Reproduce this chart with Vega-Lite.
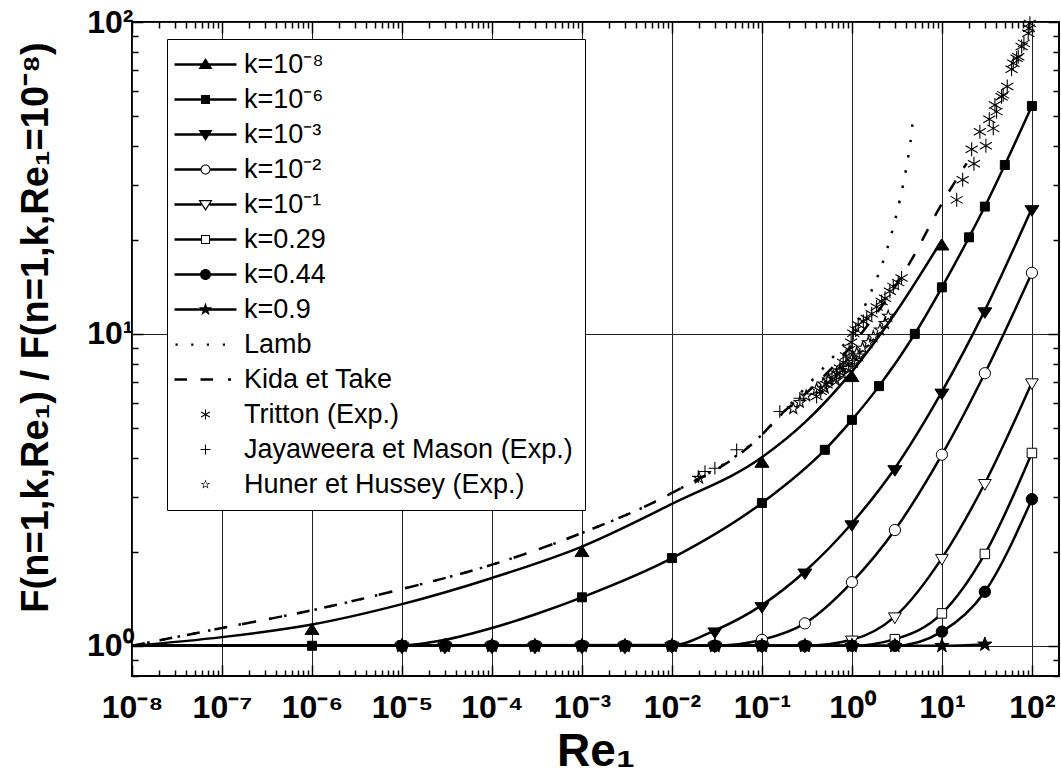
{
  "$schema": "https://vega.github.io/schema/vega-lite/v6.json",
  "width": 927,
  "height": 654,
  "autosize": {"type": "none"},
  "padding": {"left": 132, "top": 22, "right": 2, "bottom": 100},
  "background": "white",
  "config": {
    "font": "Liberation Sans",
    "view": {"stroke": "black", "strokeWidth": 2},
    "axis": {
      "domain": false,
      "labelFont": "Liberation Sans",
      "labelFontWeight": "bold",
      "labelFontSize": 32,
      "labelColor": "black",
      "labelOverlap": false,
      "labelFlush": false,
      "labelBound": false,
      "tickColor": "black",
      "tickWidth": 1.5,
      "gridColor": "#222222",
      "gridWidth": 1,
      "titleFont": "Liberation Sans",
      "titleFontWeight": "bold",
      "titleColor": "black"
    }
  },
  "datasets": {
    "model": [
      {"k": "k=10⁻⁸", "Re": 1e-8, "F": 1.0}, {"k": "k=10⁻⁸", "Re": 1e-7, "F": 1.066}, {"k": "k=10⁻⁸", "Re": 1e-6, "F": 1.17},
      {"k": "k=10⁻⁸", "Re": 1e-5, "F": 1.36}, {"k": "k=10⁻⁸", "Re": 1e-4, "F": 1.65}, {"k": "k=10⁻⁸", "Re": 1e-3, "F": 2.08},
      {"k": "k=10⁻⁸", "Re": 1e-2, "F": 2.85}, {"k": "k=10⁻⁸", "Re": 0.1, "F": 4.02}, {"k": "k=10⁻⁸", "Re": 0.3, "F": 5.2},
      {"k": "k=10⁻⁸", "Re": 1, "F": 7.57}, {"k": "k=10⁻⁸", "Re": 3, "F": 11.6}, {"k": "k=10⁻⁸", "Re": 10, "F": 20.0},

      {"k": "k=10⁻⁶", "Re": 1e-8, "F": 1.0}, {"k": "k=10⁻⁶", "Re": 1e-6, "F": 1.0}, {"k": "k=10⁻⁶", "Re": 1e-5, "F": 1.003},
      {"k": "k=10⁻⁶", "Re": 3e-5, "F": 1.045}, {"k": "k=10⁻⁶", "Re": 1e-4, "F": 1.14}, {"k": "k=10⁻⁶", "Re": 3e-4, "F": 1.26},
      {"k": "k=10⁻⁶", "Re": 1e-3, "F": 1.43}, {"k": "k=10⁻⁶", "Re": 1e-2, "F": 1.91}, {"k": "k=10⁻⁶", "Re": 0.1, "F": 2.87},
      {"k": "k=10⁻⁶", "Re": 0.5, "F": 4.25}, {"k": "k=10⁻⁶", "Re": 1, "F": 5.3}, {"k": "k=10⁻⁶", "Re": 2, "F": 6.8},
      {"k": "k=10⁻⁶", "Re": 5, "F": 10.0}, {"k": "k=10⁻⁶", "Re": 10, "F": 14.1}, {"k": "k=10⁻⁶", "Re": 20, "F": 20.4},
      {"k": "k=10⁻⁶", "Re": 30, "F": 25.6}, {"k": "k=10⁻⁶", "Re": 50, "F": 34.8}, {"k": "k=10⁻⁶", "Re": 100, "F": 53.8},

      {"k": "k=10⁻³", "Re": 1e-8, "F": 1.0}, {"k": "k=10⁻³", "Re": 1e-2, "F": 1.005}, {"k": "k=10⁻³", "Re": 3e-2, "F": 1.12},
      {"k": "k=10⁻³", "Re": 0.1, "F": 1.35}, {"k": "k=10⁻³", "Re": 0.3, "F": 1.73}, {"k": "k=10⁻³", "Re": 1, "F": 2.47},
      {"k": "k=10⁻³", "Re": 3, "F": 3.71}, {"k": "k=10⁻³", "Re": 10, "F": 6.53}, {"k": "k=10⁻³", "Re": 30, "F": 11.9},
      {"k": "k=10⁻³", "Re": 100, "F": 25.3},

      {"k": "k=10⁻²", "Re": 1e-8, "F": 1.0}, {"k": "k=10⁻²", "Re": 3e-2, "F": 1.0}, {"k": "k=10⁻²", "Re": 0.1, "F": 1.045},
      {"k": "k=10⁻²", "Re": 0.3, "F": 1.18}, {"k": "k=10⁻²", "Re": 1, "F": 1.6}, {"k": "k=10⁻²", "Re": 3, "F": 2.35},
      {"k": "k=10⁻²", "Re": 10, "F": 4.1}, {"k": "k=10⁻²", "Re": 30, "F": 7.48}, {"k": "k=10⁻²", "Re": 100, "F": 15.7},

      {"k": "k=10⁻¹", "Re": 1e-8, "F": 1.0}, {"k": "k=10⁻¹", "Re": 0.3, "F": 1.0}, {"k": "k=10⁻¹", "Re": 1, "F": 1.045},
      {"k": "k=10⁻¹", "Re": 3, "F": 1.24}, {"k": "k=10⁻¹", "Re": 10, "F": 1.91}, {"k": "k=10⁻¹", "Re": 30, "F": 3.32},
      {"k": "k=10⁻¹", "Re": 100, "F": 6.98},

      {"k": "k=0.29", "Re": 1e-8, "F": 1.0}, {"k": "k=0.29", "Re": 1, "F": 1.0}, {"k": "k=0.29", "Re": 3, "F": 1.05},
      {"k": "k=0.29", "Re": 10, "F": 1.27}, {"k": "k=0.29", "Re": 30, "F": 1.97}, {"k": "k=0.29", "Re": 100, "F": 4.15},

      {"k": "k=0.44", "Re": 1e-8, "F": 1.0}, {"k": "k=0.44", "Re": 3, "F": 1.0}, {"k": "k=0.44", "Re": 10, "F": 1.11},
      {"k": "k=0.44", "Re": 30, "F": 1.49}, {"k": "k=0.44", "Re": 100, "F": 2.95},

      {"k": "k=0.9", "Re": 1e-8, "F": 1.0}, {"k": "k=0.9", "Re": 10, "F": 1.0}, {"k": "k=0.9", "Re": 30, "F": 1.01}
    ],
    "marks": [
      {"k": "k=10⁻⁸", "Re": 1e-6, "F": 1.17}, {"k": "k=10⁻⁸", "Re": 1e-3, "F": 2.08}, {"k": "k=10⁻⁸", "Re": 0.1, "F": 4.02},
      {"k": "k=10⁻⁸", "Re": 1, "F": 7.57}, {"k": "k=10⁻⁸", "Re": 10, "F": 20.0},

      {"k": "k=10⁻⁶", "Re": 1e-6, "F": 1.0}, {"k": "k=10⁻⁶", "Re": 1e-5, "F": 1.003}, {"k": "k=10⁻⁶", "Re": 1e-3, "F": 1.43},
      {"k": "k=10⁻⁶", "Re": 1e-2, "F": 1.91}, {"k": "k=10⁻⁶", "Re": 0.1, "F": 2.87}, {"k": "k=10⁻⁶", "Re": 0.5, "F": 4.25},
      {"k": "k=10⁻⁶", "Re": 1, "F": 5.3}, {"k": "k=10⁻⁶", "Re": 2, "F": 6.8}, {"k": "k=10⁻⁶", "Re": 5, "F": 10.0},
      {"k": "k=10⁻⁶", "Re": 10, "F": 14.1}, {"k": "k=10⁻⁶", "Re": 20, "F": 20.4}, {"k": "k=10⁻⁶", "Re": 30, "F": 25.6},
      {"k": "k=10⁻⁶", "Re": 50, "F": 34.8}, {"k": "k=10⁻⁶", "Re": 100, "F": 53.8},

      {"k": "k=10⁻³", "Re": 1e-5, "F": 1.0}, {"k": "k=10⁻³", "Re": 3e-5, "F": 1.0}, {"k": "k=10⁻³", "Re": 1e-4, "F": 1.0},
      {"k": "k=10⁻³", "Re": 3e-4, "F": 1.0}, {"k": "k=10⁻³", "Re": 1e-3, "F": 1.0}, {"k": "k=10⁻³", "Re": 3e-3, "F": 1.0},
      {"k": "k=10⁻³", "Re": 1e-2, "F": 1.005}, {"k": "k=10⁻³", "Re": 3e-2, "F": 1.12}, {"k": "k=10⁻³", "Re": 0.1, "F": 1.35},
      {"k": "k=10⁻³", "Re": 0.3, "F": 1.73}, {"k": "k=10⁻³", "Re": 1, "F": 2.47}, {"k": "k=10⁻³", "Re": 3, "F": 3.71},
      {"k": "k=10⁻³", "Re": 10, "F": 6.53}, {"k": "k=10⁻³", "Re": 30, "F": 11.9}, {"k": "k=10⁻³", "Re": 100, "F": 25.3},

      {"k": "k=10⁻²", "Re": 1e-5, "F": 1.0}, {"k": "k=10⁻²", "Re": 3e-5, "F": 1.0}, {"k": "k=10⁻²", "Re": 1e-4, "F": 1.0},
      {"k": "k=10⁻²", "Re": 3e-4, "F": 1.0}, {"k": "k=10⁻²", "Re": 1e-3, "F": 1.0}, {"k": "k=10⁻²", "Re": 3e-3, "F": 1.0},
      {"k": "k=10⁻²", "Re": 1e-2, "F": 1.0}, {"k": "k=10⁻²", "Re": 3e-2, "F": 1.0}, {"k": "k=10⁻²", "Re": 0.1, "F": 1.045},
      {"k": "k=10⁻²", "Re": 0.3, "F": 1.18}, {"k": "k=10⁻²", "Re": 1, "F": 1.6}, {"k": "k=10⁻²", "Re": 3, "F": 2.35},
      {"k": "k=10⁻²", "Re": 10, "F": 4.1}, {"k": "k=10⁻²", "Re": 30, "F": 7.48}, {"k": "k=10⁻²", "Re": 100, "F": 15.7},

      {"k": "k=10⁻¹", "Re": 1e-5, "F": 1.0}, {"k": "k=10⁻¹", "Re": 3e-5, "F": 1.0}, {"k": "k=10⁻¹", "Re": 1e-4, "F": 1.0},
      {"k": "k=10⁻¹", "Re": 3e-4, "F": 1.0}, {"k": "k=10⁻¹", "Re": 1e-3, "F": 1.0}, {"k": "k=10⁻¹", "Re": 3e-3, "F": 1.0},
      {"k": "k=10⁻¹", "Re": 1e-2, "F": 1.0}, {"k": "k=10⁻¹", "Re": 3e-2, "F": 1.0}, {"k": "k=10⁻¹", "Re": 0.1, "F": 1.0},
      {"k": "k=10⁻¹", "Re": 0.3, "F": 1.0}, {"k": "k=10⁻¹", "Re": 1, "F": 1.045}, {"k": "k=10⁻¹", "Re": 3, "F": 1.24},
      {"k": "k=10⁻¹", "Re": 10, "F": 1.91}, {"k": "k=10⁻¹", "Re": 30, "F": 3.32}, {"k": "k=10⁻¹", "Re": 100, "F": 6.98},

      {"k": "k=0.29", "Re": 1e-5, "F": 1.0}, {"k": "k=0.29", "Re": 3e-5, "F": 1.0}, {"k": "k=0.29", "Re": 1e-4, "F": 1.0},
      {"k": "k=0.29", "Re": 3e-4, "F": 1.0}, {"k": "k=0.29", "Re": 1e-3, "F": 1.0}, {"k": "k=0.29", "Re": 3e-3, "F": 1.0},
      {"k": "k=0.29", "Re": 1e-2, "F": 1.0}, {"k": "k=0.29", "Re": 3e-2, "F": 1.0}, {"k": "k=0.29", "Re": 0.1, "F": 1.0},
      {"k": "k=0.29", "Re": 0.3, "F": 1.0}, {"k": "k=0.29", "Re": 1, "F": 1.0}, {"k": "k=0.29", "Re": 3, "F": 1.05},
      {"k": "k=0.29", "Re": 10, "F": 1.27}, {"k": "k=0.29", "Re": 30, "F": 1.97}, {"k": "k=0.29", "Re": 100, "F": 4.15},

      {"k": "k=0.44", "Re": 1e-5, "F": 1.0}, {"k": "k=0.44", "Re": 3e-5, "F": 1.0}, {"k": "k=0.44", "Re": 1e-4, "F": 1.0},
      {"k": "k=0.44", "Re": 3e-4, "F": 1.0}, {"k": "k=0.44", "Re": 1e-3, "F": 1.0}, {"k": "k=0.44", "Re": 3e-3, "F": 1.0},
      {"k": "k=0.44", "Re": 1e-2, "F": 1.0}, {"k": "k=0.44", "Re": 3e-2, "F": 1.0}, {"k": "k=0.44", "Re": 0.1, "F": 1.0},
      {"k": "k=0.44", "Re": 0.3, "F": 1.0}, {"k": "k=0.44", "Re": 1, "F": 1.0}, {"k": "k=0.44", "Re": 3, "F": 1.0},
      {"k": "k=0.44", "Re": 10, "F": 1.11}, {"k": "k=0.44", "Re": 30, "F": 1.49}, {"k": "k=0.44", "Re": 100, "F": 2.95},

      {"k": "k=0.9", "Re": 1e-5, "F": 1.0}, {"k": "k=0.9", "Re": 3e-5, "F": 1.0}, {"k": "k=0.9", "Re": 1e-4, "F": 1.0},
      {"k": "k=0.9", "Re": 3e-4, "F": 1.0}, {"k": "k=0.9", "Re": 1e-3, "F": 1.0}, {"k": "k=0.9", "Re": 3e-3, "F": 1.0},
      {"k": "k=0.9", "Re": 1e-2, "F": 1.0}, {"k": "k=0.9", "Re": 3e-2, "F": 1.0}, {"k": "k=0.9", "Re": 0.1, "F": 1.0},
      {"k": "k=0.9", "Re": 0.3, "F": 1.0}, {"k": "k=0.9", "Re": 1, "F": 1.0}, {"k": "k=0.9", "Re": 3, "F": 1.0},
      {"k": "k=0.9", "Re": 10, "F": 1.0}, {"k": "k=0.9", "Re": 30, "F": 1.01}
    ],
    "lamb": [
      {"Re": 1e-8, "F": 1.0}, {"Re": 1e-7, "F": 1.14}, {"Re": 1e-6, "F": 1.3}, {"Re": 1e-5, "F": 1.52},
      {"Re": 1e-4, "F": 1.82}, {"Re": 1e-3, "F": 2.3}, {"Re": 1e-2, "F": 3.09}, {"Re": 0.1, "F": 4.75},
      {"Re": 0.3, "F": 6.7}, {"Re": 0.7, "F": 8.8}, {"Re": 1, "F": 10.0}, {"Re": 1.46, "F": 12.7},
      {"Re": 2.1, "F": 16.3}, {"Re": 2.76, "F": 21.0}, {"Re": 3.41, "F": 26.9}, {"Re": 4.05, "F": 34.5},
      {"Re": 4.6, "F": 44.2}, {"Re": 4.8, "F": 50.0}
    ],
    "kida": [
      {"Re": 1e-8, "F": 1.0}, {"Re": 1e-7, "F": 1.14}, {"Re": 1e-6, "F": 1.3}, {"Re": 1e-5, "F": 1.52},
      {"Re": 1e-4, "F": 1.82}, {"Re": 1e-3, "F": 2.3}, {"Re": 1e-2, "F": 3.09}, {"Re": 0.1, "F": 4.75},
      {"Re": 0.16, "F": 5.5}, {"Re": 0.3, "F": 6.4}, {"Re": 1, "F": 9.2}, {"Re": 4.6, "F": 17.3},
      {"Re": 10, "F": 26.2}, {"Re": 18.8, "F": 35.2}
    ],
    "exp": [
      {"src": "Tritton (Exp.)", "Re": 0.405, "F": 6.3}, {"src": "Tritton (Exp.)", "Re": 0.45, "F": 6.55},
      {"src": "Tritton (Exp.)", "Re": 0.524, "F": 6.87}, {"src": "Tritton (Exp.)", "Re": 0.6, "F": 7.15},
      {"src": "Tritton (Exp.)", "Re": 0.676, "F": 7.44}, {"src": "Tritton (Exp.)", "Re": 0.736, "F": 7.76},
      {"src": "Tritton (Exp.)", "Re": 0.8, "F": 8.1}, {"src": "Tritton (Exp.)", "Re": 0.86, "F": 8.5},
      {"src": "Tritton (Exp.)", "Re": 0.93, "F": 8.9}, {"src": "Tritton (Exp.)", "Re": 0.98, "F": 9.4},
      {"src": "Tritton (Exp.)", "Re": 1.035, "F": 10.05}, {"src": "Tritton (Exp.)", "Re": 1.1, "F": 10.3},
      {"src": "Tritton (Exp.)", "Re": 1.175, "F": 10.7}, {"src": "Tritton (Exp.)", "Re": 1.34, "F": 10.96},
      {"src": "Tritton (Exp.)", "Re": 1.46, "F": 11.2}, {"src": "Tritton (Exp.)", "Re": 1.66, "F": 11.6},
      {"src": "Tritton (Exp.)", "Re": 1.88, "F": 12.2}, {"src": "Tritton (Exp.)", "Re": 2.14, "F": 12.7},
      {"src": "Tritton (Exp.)", "Re": 2.33, "F": 13.0}, {"src": "Tritton (Exp.)", "Re": 2.64, "F": 13.7},
      {"src": "Tritton (Exp.)", "Re": 2.88, "F": 14.2}, {"src": "Tritton (Exp.)", "Re": 3.27, "F": 14.6},
      {"src": "Tritton (Exp.)", "Re": 3.56, "F": 15.1},
      {"src": "Tritton (Exp.)", "Re": 14.6, "F": 26.9}, {"src": "Tritton (Exp.)", "Re": 17.0, "F": 31.2},
      {"src": "Tritton (Exp.)", "Re": 22.7, "F": 35.1}, {"src": "Tritton (Exp.)", "Re": 21.4, "F": 39.1},
      {"src": "Tritton (Exp.)", "Re": 30.8, "F": 40.1}, {"src": "Tritton (Exp.)", "Re": 26.4, "F": 44.5},
      {"src": "Tritton (Exp.)", "Re": 37.2, "F": 45.6}, {"src": "Tritton (Exp.)", "Re": 33.6, "F": 48.8},
      {"src": "Tritton (Exp.)", "Re": 40.5, "F": 51.6}, {"src": "Tritton (Exp.)", "Re": 38.8, "F": 54.2},
      {"src": "Tritton (Exp.)", "Re": 46.0, "F": 57.6}, {"src": "Tritton (Exp.)", "Re": 48.0, "F": 58.4},
      {"src": "Tritton (Exp.)", "Re": 53.2, "F": 62.1}, {"src": "Tritton (Exp.)", "Re": 59.4, "F": 70.5},
      {"src": "Tritton (Exp.)", "Re": 62.1, "F": 73.8}, {"src": "Tritton (Exp.)", "Re": 67.6, "F": 76.5},
      {"src": "Tritton (Exp.)", "Re": 70.5, "F": 77.4}, {"src": "Tritton (Exp.)", "Re": 76.9, "F": 83.4},
      {"src": "Tritton (Exp.)", "Re": 81.5, "F": 85.4}, {"src": "Tritton (Exp.)", "Re": 91.0, "F": 92.0},
      {"src": "Tritton (Exp.)", "Re": 92.7, "F": 95.5}, {"src": "Tritton (Exp.)", "Re": 95.0, "F": 99.0},

      {"src": "Jayaweera et Mason (Exp.)", "Re": 0.0196, "F": 3.49}, {"src": "Jayaweera et Mason (Exp.)", "Re": 0.0233, "F": 3.62},
      {"src": "Jayaweera et Mason (Exp.)", "Re": 0.03, "F": 3.71}, {"src": "Jayaweera et Mason (Exp.)", "Re": 0.0524, "F": 4.25},
      {"src": "Jayaweera et Mason (Exp.)", "Re": 0.158, "F": 5.64}, {"src": "Jayaweera et Mason (Exp.)", "Re": 0.264, "F": 6.22},

      {"src": "Huner et Hussey (Exp.)", "Re": 0.02, "F": 3.45}, {"src": "Huner et Hussey (Exp.)", "Re": 0.223, "F": 5.76},
      {"src": "Huner et Hussey (Exp.)", "Re": 0.264, "F": 6.03}, {"src": "Huner et Hussey (Exp.)", "Re": 0.31, "F": 6.33},
      {"src": "Huner et Hussey (Exp.)", "Re": 0.405, "F": 6.65}, {"src": "Huner et Hussey (Exp.)", "Re": 0.48, "F": 6.92},
      {"src": "Huner et Hussey (Exp.)", "Re": 0.5, "F": 6.7}, {"src": "Huner et Hussey (Exp.)", "Re": 0.546, "F": 7.12},
      {"src": "Huner et Hussey (Exp.)", "Re": 0.62, "F": 7.33}, {"src": "Huner et Hussey (Exp.)", "Re": 0.66, "F": 7.1},
      {"src": "Huner et Hussey (Exp.)", "Re": 0.736, "F": 7.63}, {"src": "Huner et Hussey (Exp.)", "Re": 0.78, "F": 7.45},
      {"src": "Huner et Hussey (Exp.)", "Re": 0.857, "F": 7.9}, {"src": "Huner et Hussey (Exp.)", "Re": 0.9, "F": 7.75},
      {"src": "Huner et Hussey (Exp.)", "Re": 0.99, "F": 8.26}, {"src": "Huner et Hussey (Exp.)", "Re": 1.05, "F": 8.1},
      {"src": "Huner et Hussey (Exp.)", "Re": 1.13, "F": 8.67}, {"src": "Huner et Hussey (Exp.)", "Re": 1.2, "F": 8.5},
      {"src": "Huner et Hussey (Exp.)", "Re": 1.31, "F": 9.0}, {"src": "Huner et Hussey (Exp.)", "Re": 1.52, "F": 9.38},
      {"src": "Huner et Hussey (Exp.)", "Re": 1.73, "F": 9.8}, {"src": "Huner et Hussey (Exp.)", "Re": 2.05, "F": 10.3},
      {"src": "Huner et Hussey (Exp.)", "Re": 2.33, "F": 10.8}, {"src": "Huner et Hussey (Exp.)", "Re": 2.53, "F": 11.4}
    ],
    "series": [
      {"name": "k=10⁻⁸"}, {"name": "k=10⁻⁶"}, {"name": "k=10⁻³"}, {"name": "k=10⁻²"}, {"name": "k=10⁻¹"},
      {"name": "k=0.29"}, {"name": "k=0.44"}, {"name": "k=0.9"}, {"name": "Lamb"}, {"name": "Kida et Take"},
      {"name": "Tritton (Exp.)"}, {"name": "Jayaweera et Mason (Exp.)"}, {"name": "Huner et Hussey (Exp.)"}
    ]
  },
  "layer": [
    {
      "data": {"name": "model"},
      "mark": {"type": "line", "interpolate": "monotone", "color": "black", "strokeWidth": 2.5},
      "encoding": {
        "x": {
          "field": "Re", "type": "quantitative",
          "scale": {"type": "log", "domain": [1e-8, 200], "nice": false},
          "axis": {
            "orient": "bottom",
            "title": "Re₁",
            "titleFontSize": 46,
            "titlePadding": 1,
            "values": [1e-8,2e-8,3e-8,4e-8,5e-8,6e-8,7e-8,8e-8,9e-8,1e-7,2e-7,3e-7,4e-7,5e-7,6e-7,7e-7,8e-7,9e-7,1e-6,2e-6,3e-6,4e-6,5e-6,6e-6,7e-6,8e-6,9e-6,1e-5,2e-5,3e-5,4e-5,5e-5,6e-5,7e-5,8e-5,9e-5,1e-4,2e-4,3e-4,4e-4,5e-4,6e-4,7e-4,8e-4,9e-4,1e-3,2e-3,3e-3,4e-3,5e-3,6e-3,7e-3,8e-3,9e-3,1e-2,2e-2,3e-2,4e-2,5e-2,6e-2,7e-2,8e-2,9e-2,0.1,0.2,0.3,0.4,0.5,0.6,0.7,0.8,0.9,1,2,3,4,5,6,7,8,9,10,20,30,40,50,60,70,80,90,100],
            "labelExpr": "abs(log(datum.value)/LN10 - round(log(datum.value)/LN10)) < 1e-6 ? '10' + (round(log(datum.value)/LN10) < 0 ? '⁻' : '') + substring('⁰¹²³⁴⁵⁶⁷⁸⁹', abs(round(log(datum.value)/LN10)), abs(round(log(datum.value)/LN10)) + 1) : ''",
            "labelPadding": 27,
            "grid": true,
            "gridOpacity": {"condition": {"test": "abs(log(datum.value)/LN10 - round(log(datum.value)/LN10)) < 1e-6", "value": 1}, "value": 0},
            "tickSize": {"condition": {"test": "abs(log(datum.value)/LN10 - round(log(datum.value)/LN10)) < 1e-6", "value": -11}, "value": -6}
          }
        },
        "y": {
          "field": "F", "type": "quantitative",
          "scale": {"type": "log", "domain": [0.8, 100], "nice": false},
          "axis": {
            "orient": "left",
            "title": "F(n=1,k,Re₁) / F(n=1,k,Re₁=10⁻⁸)",
            "titleFontSize": 38,
            "titlePadding": 31,
            "titleY": 305,
            "values": [0.8,0.9,1,2,3,4,5,6,7,8,9,10,20,30,40,50,60,70,80,90,100],
            "labelExpr": "abs(log(datum.value)/LN10 - round(log(datum.value)/LN10)) < 1e-6 ? '10' + (round(log(datum.value)/LN10) < 0 ? '⁻' : '') + substring('⁰¹²³⁴⁵⁶⁷⁸⁹', abs(round(log(datum.value)/LN10)), abs(round(log(datum.value)/LN10)) + 1) : ''",
            "labelPadding": 10,
            "grid": true,
            "gridOpacity": {"condition": {"test": "abs(log(datum.value)/LN10 - round(log(datum.value)/LN10)) < 1e-6", "value": 1}, "value": 0},
            "tickSize": {"condition": {"test": "abs(log(datum.value)/LN10 - round(log(datum.value)/LN10)) < 1e-6", "value": -11}, "value": -6}
          }
        },
        "detail": {"field": "k", "type": "nominal"}
      }
    },
    {
      "data": {"name": "lamb"},
      "mark": {"type": "line", "interpolate": "monotone", "color": "black", "strokeWidth": 2.5, "strokeDash": [2.5, 13]},
      "encoding": {
        "x": {
          "field": "Re", "type": "quantitative",
          "axis": {
            "orient": "top", "title": null, "labels": false, "grid": false,
            "values": [1e-8,2e-8,3e-8,4e-8,5e-8,6e-8,7e-8,8e-8,9e-8,1e-7,2e-7,3e-7,4e-7,5e-7,6e-7,7e-7,8e-7,9e-7,1e-6,2e-6,3e-6,4e-6,5e-6,6e-6,7e-6,8e-6,9e-6,1e-5,2e-5,3e-5,4e-5,5e-5,6e-5,7e-5,8e-5,9e-5,1e-4,2e-4,3e-4,4e-4,5e-4,6e-4,7e-4,8e-4,9e-4,1e-3,2e-3,3e-3,4e-3,5e-3,6e-3,7e-3,8e-3,9e-3,1e-2,2e-2,3e-2,4e-2,5e-2,6e-2,7e-2,8e-2,9e-2,0.1,0.2,0.3,0.4,0.5,0.6,0.7,0.8,0.9,1,2,3,4,5,6,7,8,9,10,20,30,40,50,60,70,80,90,100],
            "tickSize": {"condition": {"test": "abs(log(datum.value)/LN10 - round(log(datum.value)/LN10)) < 1e-6", "value": -11}, "value": -6}
          }
        },
        "y": {
          "field": "F", "type": "quantitative",
          "axis": {
            "orient": "right", "title": null, "labels": false, "grid": false,
            "values": [0.8,0.9,1,2,3,4,5,6,7,8,9,10,20,30,40,50,60,70,80,90,100],
            "tickSize": {"condition": {"test": "abs(log(datum.value)/LN10 - round(log(datum.value)/LN10)) < 1e-6", "value": -11}, "value": -6}
          }
        }
      }
    },
    {
      "data": {"name": "kida"},
      "mark": {"type": "line", "interpolate": "monotone", "color": "black", "strokeWidth": 2.5, "strokeDash": [13, 15]},
      "encoding": {
        "x": {"field": "Re", "type": "quantitative", "axis": null},
        "y": {"field": "F", "type": "quantitative", "axis": null}
      }
    },
    {
      "data": {"name": "marks"},
      "mark": {"type": "point", "filled": true, "stroke": "black", "strokeWidth": 1, "size": 225, "opacity": 1},
      "encoding": {
        "x": {"field": "Re", "type": "quantitative", "axis": null},
        "y": {"field": "F", "type": "quantitative", "axis": null},
        "shape": {
          "field": "k", "type": "nominal", "legend": null,
          "scale": {
            "domain": ["k=10⁻⁸", "k=10⁻⁶", "k=10⁻³", "k=10⁻²", "k=10⁻¹", "k=0.29", "k=0.44", "k=0.9"],
            "range": [
              "M0,-0.133L0.933,1.333H-0.933Z",
              "M-0.6,-0.6H0.6V0.6H-0.6Z",
              "M0,1.067L0.933,-0.333H-0.933Z",
              "M-0.75,0A0.75,0.75 0 1,0 0.75,0A0.75,0.75 0 1,0 -0.75,0Z",
              "M0,0.933L0.85,-0.5H-0.85Z",
              "M-0.633,-0.633H0.633V0.633H-0.633Z",
              "M-0.76,0A0.76,0.76 0 1,0 0.76,0A0.76,0.76 0 1,0 -0.76,0Z",
              "M0,-1L0.235,-0.324L0.951,-0.309L0.38,0.124L0.588,0.809L0,0.4L-0.588,0.809L-0.38,0.124L-0.951,-0.309L-0.235,-0.324Z"
            ]
          }
        },
        "fill": {
          "field": "k", "type": "nominal", "legend": null,
          "scale": {
            "domain": ["k=10⁻⁸", "k=10⁻⁶", "k=10⁻³", "k=10⁻²", "k=10⁻¹", "k=0.29", "k=0.44", "k=0.9"],
            "range": ["black", "black", "black", "white", "white", "white", "black", "black"]
          }
        }
      }
    },
    {
      "data": {"name": "exp"},
      "mark": {"type": "point", "filled": false, "stroke": "black", "strokeWidth": 1.1, "size": 196, "opacity": 1},
      "encoding": {
        "x": {"field": "Re", "type": "quantitative", "axis": null},
        "y": {"field": "F", "type": "quantitative", "axis": null},
        "shape": {
          "field": "src", "type": "nominal", "legend": null,
          "scale": {
            "domain": ["Tritton (Exp.)", "Jayaweera et Mason (Exp.)", "Huner et Hussey (Exp.)"],
            "range": [
              "M0,-1V1M-0.866,-0.5L0.866,0.5M-0.866,0.5L0.866,-0.5",
              "M-0.9,0H0.9M0,-0.9V0.9",
              "M0,-0.85L0.2,-0.275L0.808,-0.263L0.323,0.105L0.5,0.688L0,0.34L-0.5,0.688L-0.323,0.105L-0.808,-0.263L-0.2,-0.275Z"
            ]
          }
        }
      }
    },
    {
      "data": {"name": "series"},
      "mark": {"type": "point", "filled": true, "color": "black", "opacity": 0},
      "encoding": {
        "shape": {
          "field": "name", "type": "nominal",
          "scale": {
            "domain": ["k=10⁻⁸", "k=10⁻⁶", "k=10⁻³", "k=10⁻²", "k=10⁻¹", "k=0.29", "k=0.44", "k=0.9", "Lamb", "Kida et Take", "Tritton (Exp.)", "Jayaweera et Mason (Exp.)", "Huner et Hussey (Exp.)"],
            "range": [
              "M-31,-1.25H31V1.25H-31ZM0,-6.5L7,4.5H-7Z",
              "M-31,-1.25H31V1.25H-31ZM-4.5,-4.5H4.5V4.5H-4.5Z",
              "M-31,-1.25H31V1.25H-31ZM0,6.5L-7,-4.5H7Z",
              "M-31,-1.25H-5V1.25H-31ZM5,-1.25H31V1.25H5ZM-5,0A5,5 0 1,1 5,0A5,5 0 1,1 -5,0ZM-4,0A4,4 0 1,0 4,0A4,4 0 1,0 -4,0Z",
              "M-31,-1.25H-4.1V1.25H-31ZM4.1,-1.25H31V1.25H4.1ZM0,6.5L-7,-4.5H7ZM0,4.26L4.81,-3.3H-4.81Z",
              "M-31,-1.25H-4.5V1.25H-31ZM4.5,-1.25H31V1.25H4.5ZM-4.5,-4.5H4.5V4.5H-4.5ZM-3.5,-3.5V3.5H3.5V-3.5Z",
              "M-31,-1.25H31V1.25H-31ZM-5.5,0A5.5,5.5 0 1,1 5.5,0A5.5,5.5 0 1,1 -5.5,0Z",
              "M-31,-1.25H31V1.25H-31ZM0,-7L1.65,-2.27L6.66,-2.16L2.67,0.87L4.11,5.66L0,2.8L-4.11,5.66L-2.67,0.87L-6.66,-2.16L-1.65,-2.27Z",
              "M-30,-1h2.2v2.2h-2.2ZM-14.3,-1h2.2v2.2h-2.2ZM1.3,-1h2.2v2.2h-2.2ZM17.3,-1h2.2v2.2h-2.2Z",
              "M-31,-1.25H-18.5V1.25H-31ZM-5,-1.25H7.5V1.25H-5ZM22.5,-1.25H25.5V1.25H22.5Z",
              "M-0.5,-5H0.5V5H-0.5ZM-4.58,-2.07L-4.08,-2.93L4.58,2.07L4.08,2.93ZM-4.58,2.07L4.08,-2.93L4.58,-2.07L-4.08,2.93Z",
              "M-5,-0.5H5V0.5H-5ZM-0.5,-5H0.5V5H-0.5Z",
              "M0,-5L1.18,-1.62L4.76,-1.55L1.9,0.62L2.94,4.05L0,2L-2.94,4.05L-1.9,0.62L-4.76,-1.55L-1.18,-1.62ZM0,-3.2L-0.73,-1.01L-3.04,-0.99L-1.19,0.39L-1.88,2.59L0,1.25L1.88,2.59L1.19,0.39L3.04,-0.99L0.73,-1.01Z"
            ]
          },
          "legend": {
            "orient": "none", "legendX": 35, "legendY": 17,
            "title": null,
            "labelFont": "Liberation Sans", "labelFontSize": 27, "labelColor": "black", "labelLimit": 500,
            "symbolSize": 4, "symbolOffset": 13, "labelOffset": 25,
            "symbolFillColor": "black", "symbolStrokeColor": "transparent", "symbolStrokeWidth": 0, "symbolOpacity": 1,
            "rowPadding": 7, "padding": 12,
            "strokeColor": "black", "fillColor": "white"
          }
        }
      }
    }
  ],
  "resolve": {
    "scale": {"shape": "independent", "fill": "independent"},
    "axis": {"x": "independent", "y": "independent"}
  }
}
